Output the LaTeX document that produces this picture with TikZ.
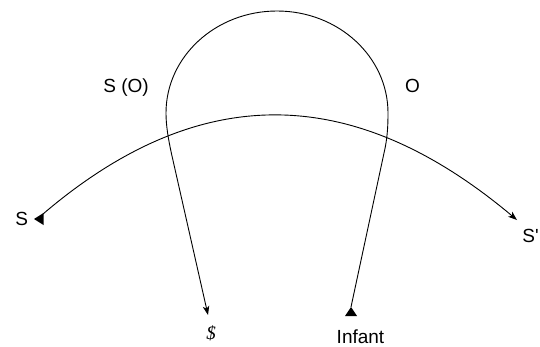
\documentclass[tikz,border=0pt]{standalone}
\usepackage{fontspec}
\setmainfont{Liberation Sans}
\newfontfamily\seriffont{Liberation Serif}
\usetikzlibrary{arrows.meta}
\begin{document}
\begin{tikzpicture}[x=1pt,y=-1pt,line width=0.9pt,
  lbl/.style={inner sep=0pt,font=\fontsize{19}{22}\selectfont},
  tipend/.style={-{Stealth[length=9pt,width=6.5pt,inset=2.5pt]}}]
\useasboundingbox (0,0) rectangle (540,346);
% labels
\node[lbl,anchor=base west] (S)  at (15,225) {S};
\node[lbl,anchor=base west] (Sp) at (522,242) {S\textquotesingle};
\node[lbl,anchor=base west] (SO) at (103,92) {S (O)};
\node[lbl,anchor=base]      (O)  at (412.5,92) {O};
\node[lbl,anchor=base]      (inf) at (360.5,343) {Infant};
\node[lbl,anchor=base]      (bs) at (211,339) {\seriffont\itshape\$};
% connector end points
\coordinate (sEnd)  at (43,214);
\coordinate (sTip)  at (34,219);
\coordinate (spTip) at (517,220);
\coordinate (dTip)  at (208,315);
\coordinate (iTip)  at (351,307);
% arc S -- S'
\draw[tipend] (sEnd) .. controls (200,80) and (354,83) .. (spTip);
\fill (sTip) -- (43.5,213) -- (43.5,225) -- cycle;
% loop Infant -> $
\draw[tipend] (iTip) -- (385.3,147) .. controls (387.5,135) and (388,125) .. (388,113)
  arc[start angle=0,end angle=-180,x radius=111,y radius=102]
  .. controls (166,125) and (168,138) .. (172,156) -- (dTip);
\fill (iTip) -- (357,316) -- (345,316) -- cycle;
\end{tikzpicture}
\end{document}
